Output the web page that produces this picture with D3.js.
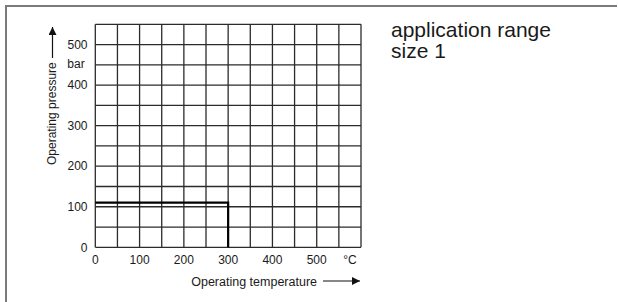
<!DOCTYPE html>
<html>
<head>
<meta charset="utf-8">
<script src="https://cdn.jsdelivr.net/npm/d3@7"></script>
<style>
  body { margin: 0; background: #fff; }
  text { font-family: "Liberation Sans", Arial, sans-serif; fill: #1a1a1a; }
</style>
</head>
<body>
<script>
// data
const tempTicks = [0, 100, 200, 300, 400, 500];
const pressTicks = [0, 100, 200, 300, 400, 500];
const gridTemps = d3.range(0, 601, 50);
const gridPress = d3.range(0, 551, 50);
const limitTemp = [0, 300, 300];
const limitPress = [110, 110, 0];
const titleLines = ["application range", "size 1"];

const WIDTH = 618, HEIGHT = 302;

const svg = d3.select('body')
  .append('svg')
  .attr('width', WIDTH)
  .attr('height', HEIGHT);

// frame (top + left only)
svg.append('path')
  .attr('d', 'M6,302V6H617')
  .attr('fill', 'none')
  .attr('stroke', '#7a7a7a')
  .attr('stroke-width', 2);

let x = d3.scaleLinear().domain([0, 600]).range([95.3, 361]);
let y = d3.scaleLinear().domain([0, 550]).range([247.3, 24.3]);

// grid
svg.append('g').selectAll('line')
  .data(gridTemps)
  .enter()
  .append('line')
  .attr('x1', d => x(d)).attr('x2', d => x(d))
  .attr('y1', y(0)).attr('y2', y(550))
  .attr('stroke', '#2b2b2b')
  .attr('stroke-width', 1.3);

svg.append('g').selectAll('line')
  .data(gridPress)
  .enter()
  .append('line')
  .attr('y1', d => y(d)).attr('y2', d => y(d))
  .attr('x1', x(0)).attr('x2', x(600))
  .attr('stroke', '#2b2b2b')
  .attr('stroke-width', 1.3);

// limit of the application range
let line = d3.line()
  .x(d => x(d[0]))
  .y(d => y(d[1]));

svg.append('path')
  .datum(d3.zip(limitTemp, limitPress))
  .attr('d', line)
  .attr('fill', 'none')
  .attr('stroke', '#000')
  .attr('stroke-width', 2.2);

// tick labels
svg.append('g').selectAll('text')
  .data(tempTicks)
  .enter()
  .append('text')
  .attr('x', d => x(d))
  .attr('y', 263.5)
  .attr('text-anchor', 'middle')
  .attr('font-size', 12)
  .text(d => d);

svg.append('text')
  .attr('x', x(575))
  .attr('y', 263.5)
  .attr('text-anchor', 'middle')
  .attr('font-size', 12)
  .text('°C');

svg.append('g').selectAll('text')
  .data(pressTicks)
  .enter()
  .append('text')
  .attr('x', 87.5)
  .attr('y', d => y(d))
  .attr('dy', '0.35em')
  .attr('text-anchor', 'end')
  .attr('font-size', 12)
  .text(d => d);

svg.append('text')
  .attr('x', 76)
  .attr('y', y(450))
  .attr('dy', '0.3em')
  .attr('text-anchor', 'middle')
  .attr('font-size', 12)
  .text('bar');

// axis titles with arrows
let defs = svg.append('defs');
defs.append('marker')
  .attr('id', 'head')
  .attr('viewBox', '0 0 10 10')
  .attr('refX', 10).attr('refY', 5)
  .attr('markerWidth', 10).attr('markerHeight', 8)
  .attr('markerUnits', 'userSpaceOnUse')
  .attr('orient', 'auto')
  .append('path')
  .attr('d', 'M0,0L10,5L0,10Z')
  .attr('fill', '#111');

svg.append('text')
  .attr('x', 317)
  .attr('y', 285.5)
  .attr('text-anchor', 'end')
  .attr('font-size', 12.5)
  .text('Operating temperature');

svg.append('line')
  .attr('x1', 323).attr('x2', 360)
  .attr('y1', 281).attr('y2', 281)
  .attr('stroke', '#111')
  .attr('stroke-width', 1.2)
  .attr('marker-end', 'url(#head)');

svg.append('text')
  .attr('transform', 'translate(56,165) rotate(-90)')
  .attr('text-anchor', 'start')
  .attr('font-size', 12)
  .text('Operating pressure');

svg.append('line')
  .attr('x1', 52.5).attr('x2', 52.5)
  .attr('y1', 58).attr('y2', 27)
  .attr('stroke', '#111')
  .attr('stroke-width', 1.2)
  .attr('marker-end', 'url(#head)');

// title
svg.append('g').selectAll('text')
  .data(titleLines)
  .enter()
  .append('text')
  .attr('x', 391)
  .attr('y', (d, i) => 36.5 + i * 21.7)
  .attr('font-size', 21)
  .text(d => d);
</script>
</body>
</html>
